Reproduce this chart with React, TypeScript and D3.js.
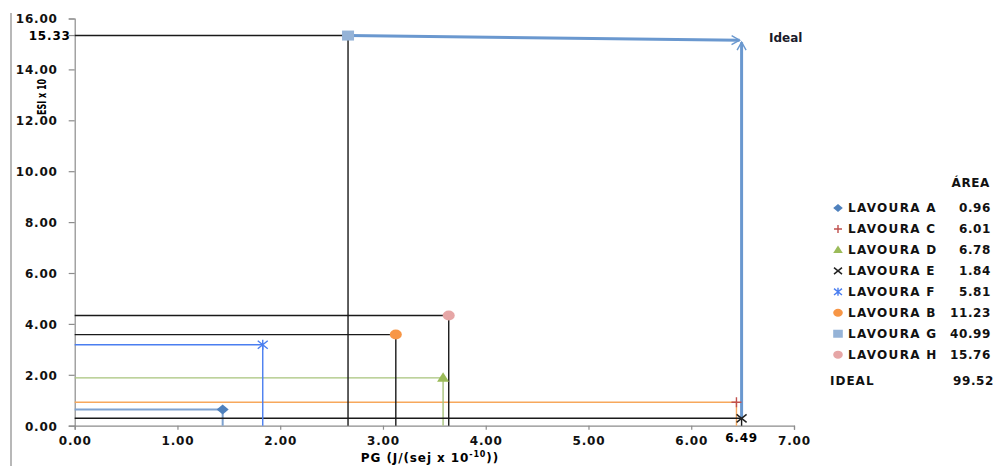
import React, { useEffect, useRef } from "react";
import * as d3 from "d3";

// series
const lavouras = ["LAVOURA A", "LAVOURA C", "LAVOURA D", "LAVOURA E", "LAVOURA F", "LAVOURA B", "LAVOURA G", "LAVOURA H"];
const pgValues = [1.44, 6.44, 3.585, 6.49, 1.83, 3.125, 2.66, 3.64];
const esiValues = [0.64, 0.92, 1.88, 0.29, 3.18, 3.58, 15.33, 4.33];
const areaLabels = ["0.96", "6.01", "6.78", "1.84", "5.81", "11.23", "40.99", "15.76"];
const markerKinds = ["diamond", "plus", "triangle", "x", "asterisk", "circle", "square", "circle"];
const markerColors = ["#4f81bd", "#c0504d", "#9bbb59", "#222222", "#4a7ef0", "#f79646", "#95b3d7", "#e6a6a6"];
const dropColors = ["#7ea2cf", "#f7a85c", "#a8c47c", "#1a1a1a", "#4a7ef0", "#1a1a1a", "#1a1a1a", "#1a1a1a"];

const xTicks = [0, 1, 2, 3, 4, 5, 6, 7];
const yTicks = [0, 2, 4, 6, 8, 10, 12, 14, 16];
const idealPoint = { pg: 6.49, esi: 15.15, area: "99.52" };

const FONT = "'DejaVu Sans', Verdana, sans-serif";

const App = () => {
  const ref = useRef<SVGSVGElement>(null);

  useEffect(() => {
    document.body.style.margin = "0";
    const width = 998;
    const height = 466;
    const svg = d3.select(ref.current);
    svg.selectAll("*").remove();
    svg.attr("width", width).attr("height", height);

    const x = d3.scaleLinear().domain([0, 7]).range([74.7, 794]);
    const y = d3.scaleLinear().domain([0, 16]).range([425.7, 18.5]);
    const axisColor = "#8c8c8c";

    // outer left border of the chart box
    svg.append("line")
      .attr("x1", 11).attr("x2", 11).attr("y1", 13).attr("y2", height)
      .attr("stroke", "#a0a0a0").attr("stroke-width", 1.5);

    // arrow head
    svg.append("defs").append("marker")
      .attr("id", "arrowHead")
      .attr("viewBox", "-10 -6 12 12")
      .attr("markerWidth", 4).attr("markerHeight", 4)
      .attr("refX", 0).attr("refY", 0)
      .attr("orient", "auto")
      .attr("markerUnits", "strokeWidth")
      .append("path")
      .attr("d", "M-8,-4.5 L0,0 L-8,4.5")
      .attr("fill", "none")
      .attr("stroke", "#6a98cf")
      .attr("stroke-width", 1.4);

    // axes
    const yAxis = svg.append("g").attr("transform", `translate(${x(0)},0)`)
      .call(d3.axisLeft(y).tickValues(yTicks).tickSize(6).tickFormat((d) => d3.format(".2f")(d as number)));
    const xAxis = svg.append("g").attr("transform", `translate(0,${y(0)})`)
      .call(d3.axisBottom(x).tickValues(xTicks).tickSize(4).tickFormat((d) => d3.format(".2f")(d as number)));
    [xAxis, yAxis].forEach((g) => {
      g.select(".domain").attr("stroke", axisColor).attr("stroke-width", 1.2);
      g.selectAll(".tick line").attr("stroke", axisColor).attr("stroke-width", 1.2);
      g.selectAll(".tick text")
        .attr("fill", "#111")
        .style("font-family", FONT)
        .style("font-size", "12px")
        .style("font-weight", "bold")
        .style("letter-spacing", "0.8px");
    });
    yAxis.selectAll(".tick text").attr("x", -17).attr("dy", "0.36em");
    xAxis.selectAll(".tick text").attr("y", 11);

    // extra tick for 15.33
    svg.append("line")
      .attr("x1", x(0) - 6).attr("x2", x(0))
      .attr("y1", y(15.33)).attr("y2", y(15.33))
      .attr("stroke", axisColor).attr("stroke-width", 1.2);
    svg.append("text")
      .attr("x", x(0) - 4).attr("y", y(15.33)).attr("dy", "0.36em")
      .attr("text-anchor", "end")
      .style("font-family", FONT).style("font-size", "12px").style("font-weight", "bold")
      .style("letter-spacing", "0.8px")
      .text("15.33");

    // drop lines from each point to both axes
    const pts = lavouras.map((name, i) => ({
      name, pg: pgValues[i], esi: esiValues[i], area: areaLabels[i],
      kind: markerKinds[i], color: markerColors[i], line: dropColors[i],
    }));

    pts.forEach((p) => {
      svg.append("path")
        .attr("d", `M${x(0)},${y(p.esi)} H${x(p.pg)} V${y(0)}`)
        .attr("fill", "none")
        .attr("stroke", p.line)
        .attr("stroke-width", p.name === "LAVOURA A" ? 2 : 1.4);
    });

    // arrows towards ideal
    const G = pts[6];
    const E = pts[3];
    svg.append("line")
      .attr("x1", x(G.pg)).attr("y1", y(G.esi))
      .attr("x2", x(idealPoint.pg) - 2).attr("y2", y(idealPoint.esi))
      .attr("stroke", "#6a98cf").attr("stroke-width", 3)
      .attr("marker-end", "url(#arrowHead)");
    svg.append("line")
      .attr("x1", x(E.pg)).attr("y1", y(E.esi))
      .attr("x2", x(idealPoint.pg)).attr("y2", y(idealPoint.esi) + 2)
      .attr("stroke", "#6a98cf").attr("stroke-width", 3)
      .attr("marker-end", "url(#arrowHead)");

    const drawMarker = (g: any, kind: string, color: string, cx: number, cy: number, s: number) => {
      const m = g.append("g").attr("transform", `translate(${cx},${cy})`);
      if (kind === "diamond") {
        m.append("path").attr("d", `M0,${-s} L${s * 1.2},0 L0,${s} L${-s * 1.2},0Z`).attr("fill", color);
      } else if (kind === "triangle") {
        m.append("path").attr("d", `M0,${-s * 1.1} L${s * 1.2},${s * 0.8} L${-s * 1.2},${s * 0.8}Z`).attr("fill", color);
      } else if (kind === "circle") {
        m.append("ellipse").attr("rx", s * 1.2).attr("ry", s).attr("fill", color);
      } else if (kind === "square") {
        m.append("rect").attr("x", -s * 1.2).attr("y", -s).attr("width", s * 2.4).attr("height", s * 2).attr("fill", color);
      } else if (kind === "plus") {
        m.append("path").attr("d", `M${-s},0 H${s} M0,${-s} V${s}`).attr("stroke", color).attr("stroke-width", 1.4);
      } else if (kind === "x") {
        m.append("path").attr("d", `M${-s},${-s * 0.8} L${s},${s * 0.8} M${-s},${s * 0.8} L${s},${-s * 0.8}`)
          .attr("stroke", color).attr("stroke-width", 1.5);
      } else if (kind === "asterisk") {
        m.append("path").attr("d", `M${-s},${-s * 0.8} L${s},${s * 0.8} M${-s},${s * 0.8} L${s},${-s * 0.8} M0,${-s} V${s}`)
          .attr("stroke", color).attr("stroke-width", 1.4);
      }
    };

    pts.forEach((p) => drawMarker(svg, p.kind, p.color, x(p.pg), y(p.esi), 5));

    // 6.49 label
    svg.append("text")
      .attr("x", x(6.49)).attr("y", 442)
      .attr("text-anchor", "middle")
      .style("font-family", FONT).style("font-size", "12px").style("font-weight", "bold")
      .style("letter-spacing", "0.8px")
      .text("6.49");

    svg.append("text")
      .attr("x", 769).attr("y", 42)
      .attr("fill", "#1a1a2a")
      .style("font-family", FONT).style("font-size", "12px").style("font-weight", "600")
      .text("Ideal");

    // axis titles
    svg.append("text")
      .attr("x", 430).attr("y", 462)
      .attr("text-anchor", "middle")
      .style("font-family", FONT).style("font-size", "12px").style("font-weight", "bold")
      .style("letter-spacing", "0.9px")
      .html("PG (J/(sej x 10<tspan dy='-5' font-size='8'>-10</tspan><tspan dy='5'>))</tspan>");
    svg.append("text")
      .attr("transform", `translate(46,97) rotate(-90)`)
      .attr("text-anchor", "middle")
      .attr("textLength", 36)
      .attr("lengthAdjust", "spacingAndGlyphs")
      .style("font-family", FONT).style("font-size", "12px").style("font-weight", "bold")
      .text("ESI x 10");

    // legend
    const ly = d3.scalePoint().domain(lavouras).range([208, 354.7]);
    const legendText = (g: any, ls = "0.6px") => g
      .style("font-family", FONT).style("font-size", "12px").style("font-weight", "bold")
      .style("letter-spacing", ls).attr("fill", "#111");
    legendText(svg.append("text").attr("x", 990).attr("y", 187).attr("text-anchor", "end").text("ÁREA"));
    pts.forEach((p) => {
      const yy = ly(p.name) as number;
      drawMarker(svg, p.kind, p.color, 838, yy, 4);
      legendText(svg.append("text").attr("x", 848).attr("y", yy).attr("dy", "0.36em").text(p.name), "1.3px");
      legendText(svg.append("text").attr("x", 991).attr("y", yy).attr("dy", "0.36em").attr("text-anchor", "end").text(p.area));
    });
    legendText(svg.append("text").attr("x", 830).attr("y", 381).attr("dy", "0.36em").text("IDEAL"), "1px");
    legendText(svg.append("text").attr("x", 994).attr("y", 381).attr("dy", "0.36em").attr("text-anchor", "end").text(idealPoint.area));
  }, []);

  return <svg ref={ref} style={{ display: "block" }}></svg>;
};

export default App;
